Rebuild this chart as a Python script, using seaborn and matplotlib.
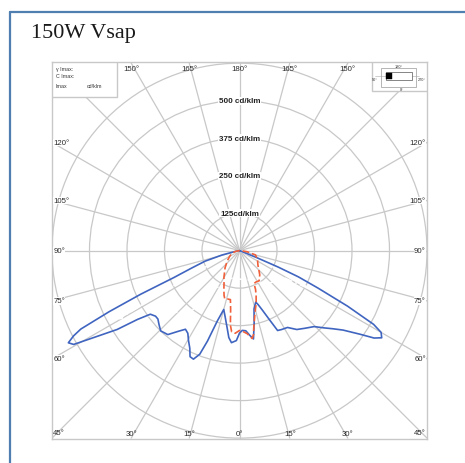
import numpy as np
import pandas as pd
import seaborn as sns
import matplotlib.pyplot as plt
from matplotlib import patches
from matplotlib.lines import Line2D

sns.set_theme(style="white")
plt.rcParams['font.family'] = ['Liberation Sans', 'DejaVu Sans']

# ---- data (gamma in degrees, left side negative; intensity in cd/klm)
c0_gamma = [-90, -82, -79, -76, -73, -70, -67.7, -66.2, -64.9, -63.7, -62.8, -61.7, -60.5,
            -59.2, -57.2, -56, -54.5, -52, -50, -47.5, -44.5, -40.5, -37, -34.5, -32, -29.5,
            -27, -25, -23, -21, -19.5, -17.5, -15, -12, -9, -7, -5, -2, 0, 2, 4.5, 7, 9,
            11.5, 14, 17.5, 19, 21, 23.5, 25.5, 28, 32, 36, 40, 44.5, 47.5, 50, 52.5, 55.3,
            57, 58.5, 60, 61.2, 62.8, 64.5, 66, 67, 68, 69, 70, 90]
c0_int = [0, 0, 15, 60, 120, 170, 237, 360, 480, 590, 622, 648, 635,
          566, 485, 410, 365, 355, 355, 364, 375, 368, 336, 318, 325, 345,
          365, 390, 393, 370, 320, 246, 203, 228, 262, 292, 308, 300, 275, 266, 268, 285, 298,
          245, 200, 180, 190, 212, 252, 295, 298, 302, 325, 338, 355, 381, 405, 435, 490,
          535, 556, 545, 510, 405, 290, 215, 140, 60, 10, 0, 0]

c90_gamma = [-90, -80, -72, -60, -50, -40, -30, -25, -22, -19, -17, -14, -10.5, -8.5, -7,
             -5.5, -3, 0, 2.5, 5.3, 8.2, 9.5, 10.5, 13, 15.7, 17.5, 20, 22.5, 23.7, 28, 33,
             40, 52, 65, 75, 82, 88, 90]
c90_int = [0, 12, 26, 38, 53, 75, 104, 122, 139, 158, 168, 166, 166, 200, 250,
           272, 276, 266, 270, 278, 296, 283, 261, 225, 198, 185, 162, 140, 120, 118, 120,
           105, 78, 66, 55, 25, 5, 0]

c45_gamma = [-88, -70, -64, -61.5, -60.5, -58, -50, -38, -29, -15, 0, 15, 30, 44, 55, 58.6,
             61.4, 63, 66, 70]
c45_int = [0, 40, 150, 300, 460, 420, 330, 248, 129, 95, 95, 100, 120, 149, 165, 173,
           270, 200, 80, 0]

rings = [125, 250, 375, 500, 625]
ring_labels = ["125cd/klm", "250 cd/klm", "375 cd/klm", "500 cd/klm"]
spoke_angles = list(range(0, 360, 15))
side_labels = [120, 105, 90, 75, 60]
top_labels = [150, 165, 180, 165, 150]
bottom_labels = [30, 15, 0, 15, 30]

GRID = '#c8c8c8'
BLUE = '#4065c0'
ORANGE = '#f0603a'
LIM = 625


def to_xy(gamma, inten):
    g = np.radians(np.asarray(gamma, dtype=float))
    i = np.asarray(inten, dtype=float)
    return i * np.sin(g), -i * np.cos(g)


fig = plt.figure(figsize=(4.65, 4.64), dpi=100)
fig.patch.set_facecolor('white')

# card border (left and top visible)
fig.add_artist(Line2D([9.5 / 465, 9.5 / 465], [0, 1 - 12.5 / 464], color='#4f7fb0', lw=1.6))
fig.add_artist(Line2D([9.5 / 465, 1], [1 - 12.5 / 464, 1 - 12.5 / 464], color='#4f7fb0', lw=1.6))
fig.text(31 / 465, 1 - 38 / 464, "150W Vsap", family=['Liberation Serif', 'DejaVu Serif'],
         fontsize=16, color='#1a1a1a', va='baseline', ha='left')

ax = fig.add_axes([52 / 465, 1 - 440 / 464, 375 / 465, 377 / 464])
ax.set_xlim(-LIM, LIM)
ax.set_ylim(-628, 629)
ax.set_xticks([])
ax.set_yticks([])
for s in ax.spines.values():
    s.set_color(GRID)
    s.set_linewidth(1.0)

# polar grid
for r in rings:
    ax.add_patch(patches.Circle((0, 0), r, fill=False, ec=GRID, lw=0.9, zorder=1))
for a in spoke_angles:
    d = np.array([np.sin(np.radians(a)), -np.cos(np.radians(a))])
    t = LIM / max(abs(d[0]), abs(d[1]))
    ax.plot([0, t * d[0]], [0, t * d[1]], color=GRID, lw=0.9, zorder=1)

# curves
wx, wy = to_xy(c45_gamma, c45_int)
sns.lineplot(x=wx, y=wy, sort=False, estimator=None, ax=ax, color='white', lw=1.2,
             linestyle=(0, (5, 2, 1, 2)), zorder=1.5)
bx, by = to_xy(c0_gamma, c0_int)
sns.lineplot(x=bx, y=by, sort=False, estimator=None, ax=ax, color=BLUE, lw=1.2, zorder=2,
             solid_joinstyle='round', solid_capstyle='round')
ox, oy = to_xy(c90_gamma, c90_int)
sns.lineplot(x=ox, y=oy, sort=False, estimator=None, ax=ax, color=ORANGE, lw=1.2,
             linestyle=(0, (4, 1.8)), zorder=2.2)

# ring labels
for r, lab in zip(rings, ring_labels):
    ax.text(0, r, lab, ha='center', va='center', fontsize=5.8, fontweight='bold', color='#222',
            bbox=dict(fc='white', ec='none', pad=0.4), zorder=4)

# angle labels along the frame
lab_kw = dict(fontsize=5.6, color='#2a2a2a', zorder=4)
for g in side_labels:
    y = -LIM * np.cos(np.radians(g)) / np.sin(np.radians(g))
    ax.text(-LIM + 4, y, f"{g}°", ha='left', va='center',
            bbox=dict(fc='white', ec='none', pad=0.3), **lab_kw)
    ax.text(LIM - 4, y, f"{g}°", ha='right', va='center',
            bbox=dict(fc='white', ec='none', pad=0.3), **lab_kw)
for i, g in enumerate(top_labels):
    sgn = -1 if i < 2 else 1
    x = sgn * LIM * np.tan(np.radians(180 - g))
    ax.text(x, 620, f"{g}°", ha='center', va='top', **lab_kw)
for i, g in enumerate(bottom_labels):
    sgn = -1 if i < 2 else 1
    x = sgn * LIM * np.tan(np.radians(g))
    ax.text(x, -620, f"{g}°", ha='center', va='bottom', **lab_kw)
ax.text(-LIM + 4, -618, "45°", ha='left', va='bottom', **lab_kw)
ax.text(LIM - 4, -618, "45°", ha='right', va='bottom', **lab_kw)

# info box top-left
ax.add_patch(patches.Rectangle((-LIM, 512), 217, 117, fc='white', ec=GRID, lw=1.0, zorder=3))
info_kw = dict(fontsize=3.8, color='#333', ha='left', va='center', zorder=4)
ax.text(-613, 608, "γ Imax:", **info_kw)
ax.text(-613, 585, "C Imax:", **info_kw)
ax.text(-613, 552, "Imax", **info_kw)
ax.text(-510, 552, "cd/klm", **info_kw)

# luminaire icon top-right
ax.add_patch(patches.Rectangle((440, 533), 185, 96, fc='white', ec=GRID, lw=1.0, zorder=3))
ax.add_patch(patches.Rectangle((470, 547), 117, 61, fill=False, ec='#999', lw=0.5, zorder=4))
ax.plot([453, 597], [583, 583], color='#aaa', lw=0.4, zorder=4)
ax.add_patch(patches.Rectangle((487, 569), 89, 28, fc='white', ec='#555', lw=0.5, zorder=4.1))
ax.add_patch(patches.Rectangle((487, 571), 22, 22, fc='black', ec='black', lw=0.3, zorder=4.2))
icon_kw = dict(fontsize=2.8, color='#333', ha='center', va='center', zorder=4.3)
ax.text(530, 614, "180°", **icon_kw)
ax.text(450, 573, "90°", **icon_kw)
ax.text(607, 573, "270°", **icon_kw)
ax.text(540, 540, "0°", **icon_kw)

fig.savefig("out.png", dpi=100, facecolor='white')
